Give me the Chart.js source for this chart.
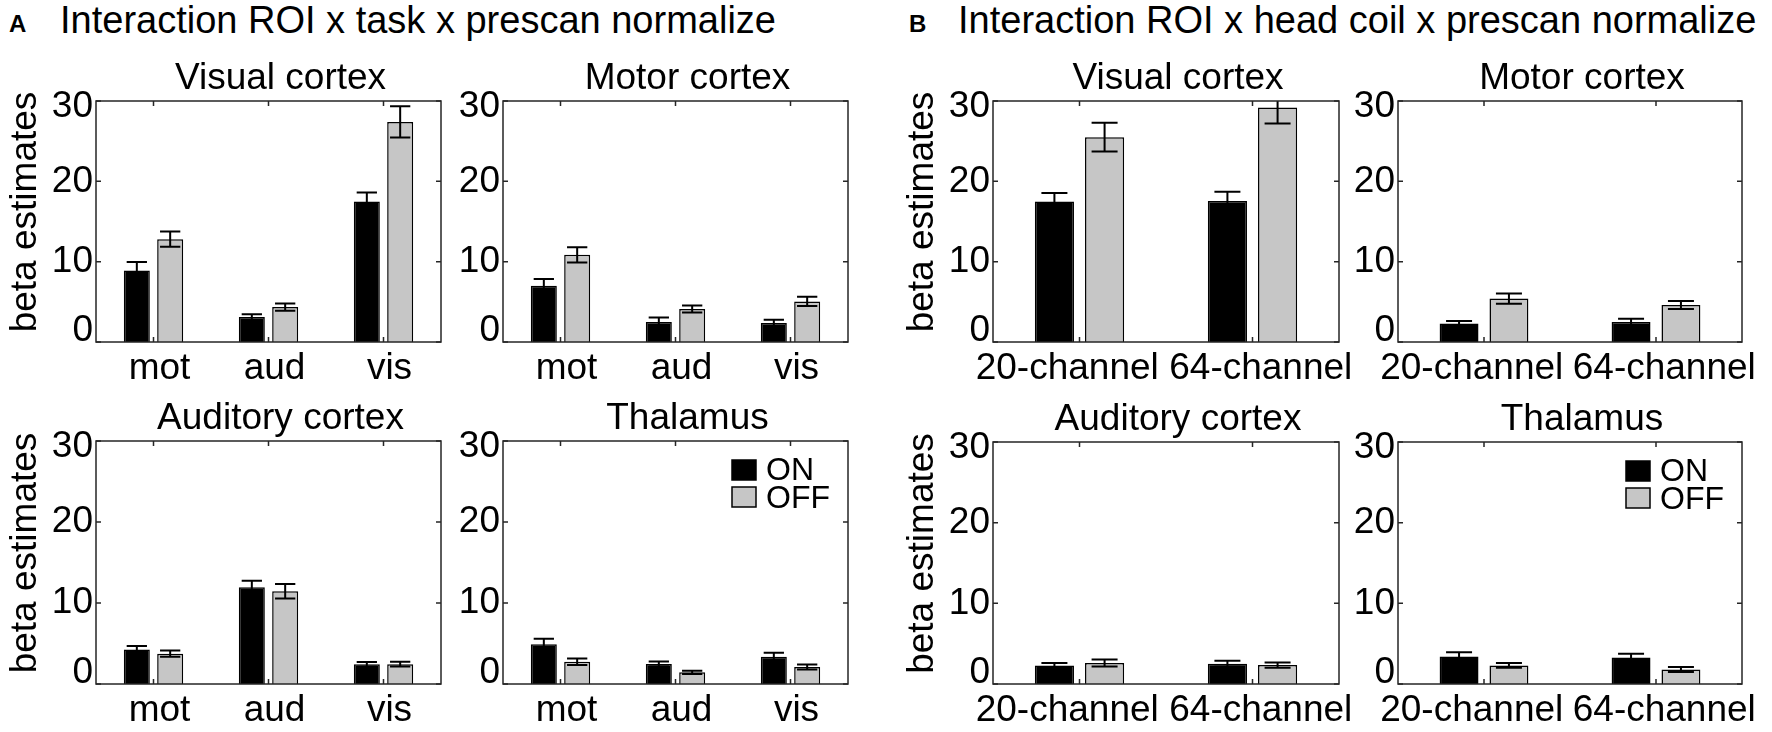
<!DOCTYPE html>
<html>
<head>
<meta charset="utf-8">
<script src="https://cdn.jsdelivr.net/npm/chart.js@4.4.1/dist/chart.umd.min.js"></script>
<style>
  html, body { margin: 0; padding: 0; background: #fff; overflow: hidden; }
  #fig { position: relative; width: 1772px; height: 732px; font-family: 'Liberation Sans', Arial, sans-serif; color: #000; }
  .letter { position: absolute; font-size: 24px; line-height: 24px; font-weight: bold; }
  .head { position: absolute; font-size: 38px; line-height: 38px; white-space: nowrap; }
  canvas { position: absolute; }
</style>
</head>
<body>
<div id="fig">
  <div class="letter" style="left:9px; top:12px;">A</div>
  <div class="head" style="left:60px; top:1px;">Interaction ROI x task x prescan normalize</div>
  <div class="letter" style="left:909px; top:12px;">B</div>
  <div class="head" style="left:958px; top:1px;">Interaction ROI x head coil x prescan normalize</div>
</div>
<script>
// categories
var taskCats = ['mot', 'aud', 'vis'];
var coilCats = ['20-channel', '64-channel'];
var seriesNames = ['ON', 'OFF'];
var yTicks = [0, 10, 20, 30];

// A: ROI x task (values and error bars)
var visualTaskOn = [8.9, 3.1, 17.5];
var visualTaskOnErr = [1.05, 0.35, 1.1];
var visualTaskOff = [12.8, 4.35, 27.4];
var visualTaskOffErr = [0.95, 0.45, 1.95];

var motorTaskOn = [7.0, 2.5, 2.35];
var motorTaskOnErr = [0.85, 0.55, 0.42];
var motorTaskOff = [10.85, 4.1, 5.05];
var motorTaskOffErr = [0.95, 0.43, 0.57];

var auditoryTaskOn = [4.25, 11.95, 2.43];
var auditoryTaskOnErr = [0.45, 0.8, 0.3];
var auditoryTaskOff = [3.75, 11.45, 2.45];
var auditoryTaskOffErr = [0.4, 0.9, 0.3];

var thalamusTaskOn = [4.9, 2.47, 3.37];
var thalamusTaskOnErr = [0.7, 0.3, 0.5];
var thalamusTaskOff = [2.75, 1.45, 2.1];
var thalamusTaskOffErr = [0.4, 0.2, 0.3];

// B: ROI x head coil
var visualCoilOn = [17.5, 17.55];
var visualCoilOnErr = [1.05, 1.15];
var visualCoilOff = [25.5, 29.2];
var visualCoilOffErr = [1.8, 2.0];

var motorCoilOn = [2.3, 2.5];
var motorCoilOnErr = [0.3, 0.4];
var motorCoilOff = [5.4, 4.6];
var motorCoilOffErr = [0.65, 0.5];

var auditoryCoilOn = [2.3, 2.5];
var auditoryCoilOnErr = [0.3, 0.37];
var auditoryCoilOff = [2.6, 2.35];
var auditoryCoilOffErr = [0.43, 0.33];

var thalamusCoilOn = [3.4, 3.3];
var thalamusCoilOnErr = [0.55, 0.45];
var thalamusCoilOff = [2.3, 1.8];
var thalamusCoilOffErr = [0.3, 0.3];

const FONT = "'Liberation Sans', Arial, sans-serif";
const BOX = '#262626';
const ON_COLOR = '#000000';
const OFF_COLOR = '#c6c6c6';
const PAD_L = 96, PAD_T = 60, PAD_R = 30, PAD_B = 50;

Chart.defaults.font.family = FONT;
Chart.defaults.color = '#000';

// error bars, box with inner ticks, titles and legend
const figPlugin = {
    id: 'figPlugin',
    afterDatasetsDraw(chart) {
        const ctx = chart.ctx;
        const area = chart.chartArea;
        const y = chart.scales.y;
        ctx.save();
        ctx.beginPath();
        ctx.rect(area.left, area.top, area.right - area.left, area.bottom - area.top);
        ctx.clip();
        ctx.strokeStyle = '#000';
        ctx.lineWidth = 2;
        chart.data.datasets.forEach((ds, di) => {
            chart.getDatasetMeta(di).data.forEach((bar, i) => {
                const v = ds.data[i], e = ds.errors[i];
                const top = y.getPixelForValue(v + e);
                const bot = y.getPixelForValue(v - e);
                const half = Math.min(13, bar.width * 0.39);
                ctx.beginPath();
                ctx.moveTo(bar.x, top); ctx.lineTo(bar.x, bot);
                ctx.moveTo(bar.x - half, top); ctx.lineTo(bar.x + half, top);
                ctx.moveTo(bar.x - half, bot); ctx.lineTo(bar.x + half, bot);
                ctx.stroke();
            });
        });
        ctx.restore();
    },
    afterDraw(chart, args, opts) {
        const ctx = chart.ctx;
        const area = chart.chartArea;
        const x = chart.scales.x, y = chart.scales.y;
        ctx.save();
        ctx.strokeStyle = BOX;
        ctx.lineWidth = 1.5;
        ctx.strokeRect(area.left, area.top, area.right - area.left, area.bottom - area.top);
        ctx.beginPath();
        x.ticks.forEach((t, i) => {
            const px = x.getPixelForTick(i);
            ctx.moveTo(px, area.bottom); ctx.lineTo(px, area.bottom - 5);
            ctx.moveTo(px, area.top); ctx.lineTo(px, area.top + 5);
        });
        y.ticks.forEach(t => {
            const py = y.getPixelForValue(t.value);
            ctx.moveTo(area.left, py); ctx.lineTo(area.left + 5, py);
            ctx.moveTo(area.right, py); ctx.lineTo(area.right - 5, py);
        });
        ctx.stroke();

        ctx.fillStyle = '#000';
        ctx.font = '37px ' + FONT;
        ctx.textAlign = 'center';
        ctx.textBaseline = 'alphabetic';
        ctx.fillText(opts.title, (area.left + area.right) / 2 + 12, area.top - 12.5);

        if (opts.yTitle) {
            ctx.save();
            ctx.translate(area.left - 60, (area.top + area.bottom) / 2 - 9.5);
            ctx.rotate(-Math.PI / 2);
            ctx.fillText(opts.yTitle, 0, 0);
            ctx.restore();
        }

        if (opts.legend) {
            ctx.font = '32px ' + FONT;
            ctx.textAlign = 'left';
            ctx.lineWidth = 1.5;
            ctx.strokeStyle = '#000';
            chart.data.datasets.forEach((ds, i) => {
                const sy = area.top + 19 + i * 27;
                ctx.fillStyle = ds.backgroundColor;
                ctx.fillRect(area.right - 116, sy, 24, 20);
                ctx.strokeRect(area.right - 116, sy, 24, 20);
                ctx.fillStyle = '#000';
                ctx.fillText(ds.label, area.right - 82, area.top + 39 + i * 28);
            });
        }
        ctx.restore();
    }
};

function makePanel(p) {
    const canvas = document.createElement('canvas');
    const w = p.w + PAD_L + PAD_R, h = p.h + PAD_T + PAD_B;
    canvas.width = w;
    canvas.height = h;
    canvas.style.left = (p.x - PAD_L) + 'px';
    canvas.style.top = (p.y - PAD_T) + 'px';
    canvas.style.width = w + 'px';
    canvas.style.height = h + 'px';
    document.getElementById('fig').appendChild(canvas);

    const isCoil = p.cats === coilCats;

    new Chart(canvas.getContext('2d'), {
        type: 'bar',
        data: {
            labels: p.cats,
            datasets: [{
                label: seriesNames[0],
                data: p.on,
                errors: p.onErr,
                backgroundColor: ON_COLOR,
                borderColor: '#000',
                borderWidth: 1.5
            }, {
                label: seriesNames[1],
                data: p.off,
                errors: p.offErr,
                backgroundColor: OFF_COLOR,
                borderColor: '#000',
                borderWidth: 1.5
            }]
        },
        options: {
            responsive: false,
            animation: false,
            devicePixelRatio: 1,
            categoryPercentage: 0.58,
            barPercentage: 0.78,
            layout: { padding: { left: 0, top: PAD_T, right: PAD_R, bottom: 0 } },
            events: [],
            plugins: {
                legend: { display: false },
                title: { display: false },
                tooltip: { enabled: false },
                figPlugin: { title: p.title, yTitle: p.yTitle, legend: p.legend }
            },
            scales: {
                x: {
                    grid: { display: false, drawTicks: false },
                    border: { display: false },
                    ticks: {
                        autoSkip: false,
                        maxRotation: 0,
                        minRotation: 0,
                        padding: 5,
                        labelOffset: isCoil ? -2 : 6,
                        font: { size: 37 },
                        callback: function (value, index) {
                            const s = p.cats[index];
                            if (!isCoil) return s;
                            return index === 0 ? s + '  ' : '  ' + s;
                        }
                    },
                    afterFit: s => { s.height = PAD_B; }
                },
                y: {
                    min: yTicks[0],
                    max: yTicks[yTicks.length - 1],
                    grid: { display: false, drawTicks: false },
                    border: { display: false },
                    ticks: {
                        stepSize: yTicks[1] - yTicks[0],
                        padding: 3,
                        font: ctx => {
                            const v = ctx.tick ? ctx.tick.value : null;
                            let lh = 1.2;
                            if (v === yTicks[yTicks.length - 1]) lh = '12px';
                            if (v === yTicks[0]) lh = '22px';
                            return { size: 37, lineHeight: lh };
                        },
                        // keep end labels inside the axis box
                        callback: function (value) {
                            const s = String(value);
                            if (value === yTicks[yTicks.length - 1]) return ['', s];
                            if (value === yTicks[0]) return [s, ''];
                            return s;
                        }
                    },
                    afterFit: s => { s.width = PAD_L; }
                }
            }
        },
        plugins: [figPlugin]
    });
}

const panels = [
    { x: 96, y: 101, w: 345, h: 241, title: 'Visual cortex', yTitle: 'beta estimates', cats: taskCats,
      on: visualTaskOn, onErr: visualTaskOnErr, off: visualTaskOff, offErr: visualTaskOffErr },
    { x: 503, y: 101, w: 345, h: 241, title: 'Motor cortex', cats: taskCats,
      on: motorTaskOn, onErr: motorTaskOnErr, off: motorTaskOff, offErr: motorTaskOffErr },
    { x: 96, y: 441, w: 345, h: 243, title: 'Auditory cortex', yTitle: 'beta estimates', cats: taskCats,
      on: auditoryTaskOn, onErr: auditoryTaskOnErr, off: auditoryTaskOff, offErr: auditoryTaskOffErr },
    { x: 503, y: 441, w: 345, h: 243, title: 'Thalamus', legend: true, cats: taskCats,
      on: thalamusTaskOn, onErr: thalamusTaskOnErr, off: thalamusTaskOff, offErr: thalamusTaskOffErr },
    { x: 993, y: 101, w: 346, h: 241, title: 'Visual cortex', yTitle: 'beta estimates', cats: coilCats,
      on: visualCoilOn, onErr: visualCoilOnErr, off: visualCoilOff, offErr: visualCoilOffErr },
    { x: 1398, y: 101, w: 344, h: 241, title: 'Motor cortex', cats: coilCats,
      on: motorCoilOn, onErr: motorCoilOnErr, off: motorCoilOff, offErr: motorCoilOffErr },
    { x: 993, y: 442, w: 346, h: 242, title: 'Auditory cortex', yTitle: 'beta estimates', cats: coilCats,
      on: auditoryCoilOn, onErr: auditoryCoilOnErr, off: auditoryCoilOff, offErr: auditoryCoilOffErr },
    { x: 1398, y: 442, w: 344, h: 242, title: 'Thalamus', legend: true, cats: coilCats,
      on: thalamusCoilOn, onErr: thalamusCoilOnErr, off: thalamusCoilOff, offErr: thalamusCoilOffErr }
];

panels.forEach(makePanel);
</script>
</body>
</html>
